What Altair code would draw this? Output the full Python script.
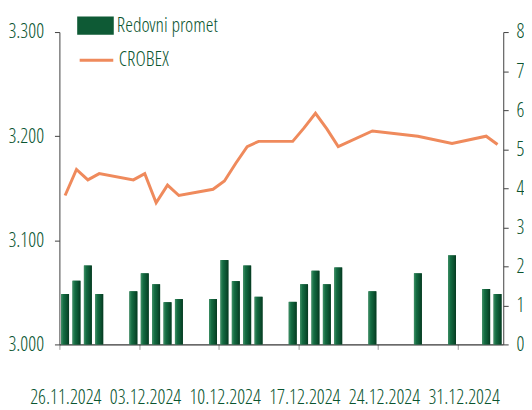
import altair as alt
import pandas as pd

# ---- data ----
dates = ["2024-11-26", "2024-11-27", "2024-11-28", "2024-11-29",
         "2024-12-02", "2024-12-03", "2024-12-04", "2024-12-05", "2024-12-06",
         "2024-12-09", "2024-12-10", "2024-12-11", "2024-12-12", "2024-12-13",
         "2024-12-16", "2024-12-17", "2024-12-18", "2024-12-19", "2024-12-20",
         "2024-12-23", "2024-12-27", "2024-12-30", "2025-01-02", "2025-01-03"]
promet = [1.29, 1.63, 2.02, 1.29,
          1.36, 1.82, 1.54, 1.08, 1.16,
          1.16, 2.16, 1.62, 2.02, 1.22,
          1.09, 1.54, 1.89, 1.54, 1.97,
          1.36, 1.82, 2.28, 1.42, 1.29]
crobex = [3143, 3168, 3158, 3164,
          3158, 3164, 3136, 3153, 3143,
          3149, 3157, 3174, 3190, 3195,
          3195, 3208, 3222, 3207, 3190,
          3205, 3200, 3193, 3200, 3192]
tick_dates = ["2024-11-26", "2024-12-03", "2024-12-10", "2024-12-17",
              "2024-12-24", "2024-12-31"]
left_ticks = [3000, 3100, 3200, 3300]
right_ticks = [0, 1, 2, 3, 4, 5, 6, 7, 8]
bar_name = "Redovni promet"
line_name = "CROBEX"

df = pd.DataFrame({
    "date": [d + "T12:00:00Z" for d in dates],
    "promet": promet,
    "crobex": crobex,
    "bar_s": bar_name,
    "line_s": line_name,
})


def dt(s):
    y, m, d = (int(v) for v in s.split("-"))
    return alt.DateTime(year=y, month=m, date=d, utc=True)


FONT = "Open Sans Condensed Light"
GREEN_TXT = "#0a5530"
ORANGE = "#ef8a5c"

x_enc = alt.X(
    "date:T",
    scale=alt.Scale(type="utc", domain=[dt("2024-11-26"), dt("2025-01-04")],
                    padding=0),
    axis=alt.Axis(
        values=[dt(t) for t in tick_dates],
        labelExpr="utcFormat(datum.value, '%d.%m.%Y')",
        labelOffset=6, labelPadding=39, tickSize=5, tickColor="#9a9a9a",
        domainColor="#000000", labelAngle=0, labelFlush=False,
        labelOverlap=False, grid=False, title=None,
    ),
)

y_bar_scale = alt.Scale(domain=[0, 8], nice=False, zero=True)
y_bar_axis = alt.Axis(orient="right", values=right_ticks, format="d",
                      tickSize=5, labelPadding=8, domainColor="#404040",
                      tickColor="#404040", grid=False, title=None)

bar_legend_layer = alt.Chart(df).mark_bar(size=8).encode(
    x=x_enc,
    y=alt.Y("promet:Q", scale=y_bar_scale, axis=y_bar_axis),
    fill=alt.Fill("bar_s:N", scale=alt.Scale(range=["#0e5a35"]),
                  legend=alt.Legend(orient="none", legendX=18, legendY=-25,
                                    title=None,
                                    symbolType="M-1,-0.5H1V0.5H-1Z",
                                    symbolSize=1369, symbolStrokeWidth=0,
                                    labelOffset=3)),
)

grad = alt.Gradient(
    gradient="linear", x1=0, y1=0, x2=1, y2=0,
    stops=[alt.GradientStop(color="#3f9066", offset=0),
           alt.GradientStop(color="#146c42", offset=0.3),
           alt.GradientStop(color="#0b5230", offset=0.7),
           alt.GradientStop(color="#063a21", offset=1)],
)

bar_grad_layer = alt.Chart(df).mark_bar(size=8, fill=grad).encode(
    x=x_enc,
    y=alt.Y("promet:Q", scale=y_bar_scale, axis=y_bar_axis),
)

bars = alt.layer(bar_legend_layer, bar_grad_layer)

line = alt.Chart(df).mark_line(strokeWidth=3).encode(
    x=x_enc,
    y=alt.Y("crobex:Q", scale=alt.Scale(domain=[3000, 3300], nice=False, zero=False),
            axis=alt.Axis(orient="left", values=left_ticks,
                          labelExpr="replace(format(datum.value, ','), ',', '.')",
                          tickSize=5, labelPadding=11, domainColor="#404040",
                          tickColor="#404040", grid=False, title=None)),
    stroke=alt.Stroke("line_s:N", scale=alt.Scale(range=[ORANGE]),
                      legend=alt.Legend(orient="none", legendX=19, legendY=10,
                                        title=None, symbolType="stroke",
                                        symbolSize=1156, symbolStrokeWidth=3,
                                        labelOffset=4)),
)

chart = alt.layer(bars, line).resolve_scale(
    y="independent", fill="independent", stroke="independent"
).properties(
    width=449, height=316,
    autosize=alt.AutoSizeParams(type="none"),
    padding={"left": 52, "top": 22, "right": 21, "bottom": 64},
).configure_view(stroke=None).configure_axis(
    labelFont=FONT, labelFontSize=20, labelColor=GREEN_TXT,
).configure_legend(
    labelFont=FONT, labelFontSize=20, labelColor=GREEN_TXT,
)

chart.save("out.html", embed_options={"renderer": "svg", "actions": False})
